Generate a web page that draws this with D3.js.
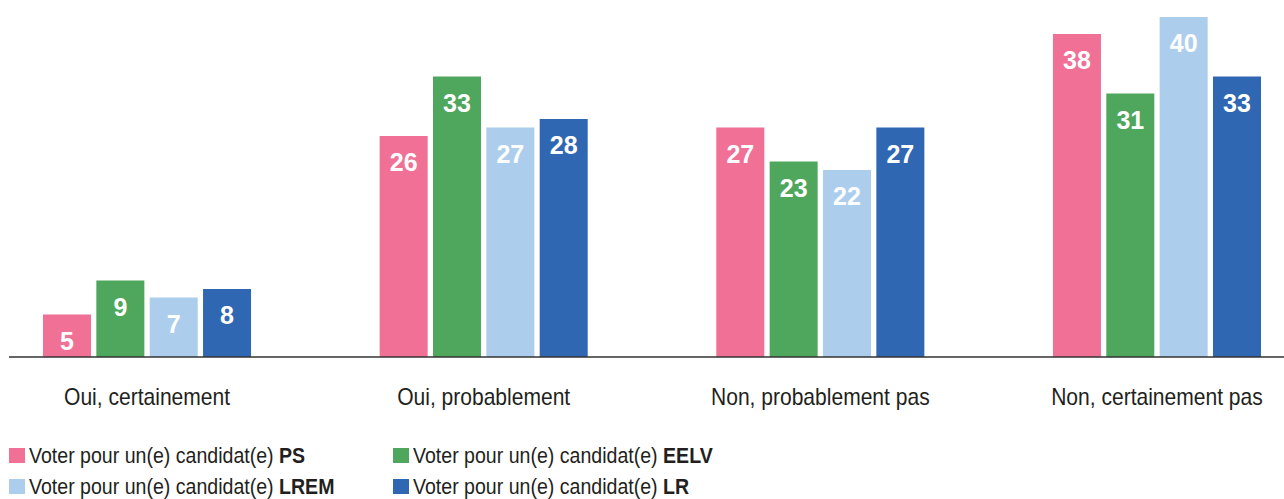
<!DOCTYPE html>
<meta charset="utf-8">
<style>
body { margin: 0; background: #fff; }
text { font-family: "Liberation Sans", Arial, sans-serif; }
.value { fill: #fff; font-weight: bold; font-size: 25px; }
.cat { fill: #231f20; font-size: 23px; }
.legend text { fill: #231f20; font-size: 21.5px; }
</style>
<svg width="1284" height="499"></svg>
<script src="https://d3js.org/d3.v7.min.js"></script>
<script>
var categories = ["Oui, certainement", "Oui, probablement", "Non, probablement pas", "Non, certainement pas"];
var parties = ["PS", "EELV", "LREM", "LR"];
var ps   = [5, 26, 27, 38];
var eelv = [9, 33, 23, 31];
var lrem = [7, 27, 22, 40];
var lr   = [8, 28, 27, 33];
var colors = ["#f07096", "#4fa75d", "#acceec", "#2f67b2"];

var series = [ps, eelv, lrem, lr];

var svg = d3.select("svg"),
    baseline = 357;

var x0 = d3.scaleBand()
    .domain(categories)
    .range([43, 1261])
    .paddingInner(0.382)
    .paddingOuter(0);

var x1 = d3.scaleBand()
    .domain(parties)
    .range([0, x0.bandwidth()])
    .paddingInner(0.1)
    .paddingOuter(0);

var y = d3.scaleLinear()
    .domain([0, 40])
    .range([baseline, 17]);

var color = d3.scaleOrdinal(parties, colors);

var rows = [];
categories.forEach(function(c, i) {
  parties.forEach(function(p, j) {
    rows.push({cat: c, party: p, value: series[j][i]});
  });
});

var bar = svg.append("g")
  .selectAll("g")
  .data(rows)
  .enter().append("g");

bar.append("rect")
    .attr("x", function(d) { return x0(d.cat) + x1(d.party); })
    .attr("y", function(d) { return y(d.value); })
    .attr("width", x1.bandwidth())
    .attr("height", function(d) { return baseline - y(d.value); })
    .attr("fill", function(d) { return color(d.party); });

bar.append("text")
    .attr("class", "value")
    .attr("text-anchor", "middle")
    .attr("x", function(d) { return x0(d.cat) + x1(d.party) + x1.bandwidth() / 2; })
    .attr("y", function(d) { return y(d.value) + 35; })
    .text(function(d) { return d.value; });

// baseline
svg.append("line")
    .attr("x1", 9)
    .attr("x2", 1284)
    .attr("y1", baseline)
    .attr("y2", baseline)
    .attr("stroke", "#333")
    .attr("stroke-width", 1.5);

// the source font is a narrow one, so squeeze the text a bit
svg.append("g")
  .selectAll("text")
  .data(categories)
  .enter().append("text")
    .attr("class", "cat")
    .attr("text-anchor", "middle")
    .attr("transform", function(d) {
      return "translate(" + (x0(d) + x0.bandwidth() / 2) + ",405) scale(0.915,1)";
    })
    .text(function(d) { return d; });

// legend, two columns
var legend = svg.append("g")
    .attr("class", "legend")
  .selectAll("g")
  .data(parties)
  .enter().append("g")
    .attr("transform", function(d, i) {
      return "translate(" + (i % 2 ? 393 : 9) + "," + (i < 2 ? 448 : 479) + ")";
    });

legend.append("rect")
    .attr("width", 16)
    .attr("height", 15)
    .attr("fill", function(d) { return color(d); });

var lt = legend.append("text")
    .attr("transform", "translate(20,15) scale(0.91,1)");

lt.append("tspan").text("Voter pour un(e) candidat(e) ");
lt.append("tspan").attr("font-weight", "bold").text(function(d) { return d; });
</script>
